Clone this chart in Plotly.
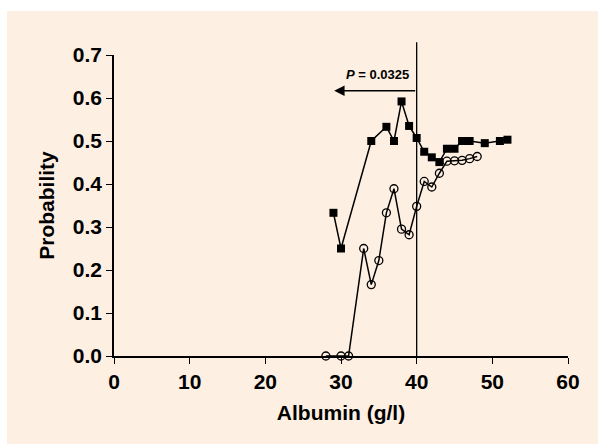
import plotly.graph_objects as go

# Data
sq_x = [29, 30, 34, 36, 37, 38, 39, 40, 41, 42, 43, 44, 45, 46, 47, 49, 51, 52]
sq_y = [0.333, 0.25, 0.5, 0.533, 0.5, 0.592, 0.535, 0.507, 0.475, 0.462, 0.451,
        0.482, 0.482, 0.5, 0.5, 0.495, 0.5, 0.503]

ci_x = [28, 30, 31, 33, 34, 35, 36, 37, 38, 39, 40, 41, 42, 43, 44, 45, 46, 47, 48]
ci_y = [0, 0, 0, 0.25, 0.166, 0.222, 0.333, 0.389, 0.295, 0.282, 0.348, 0.406,
        0.393, 0.425, 0.453, 0.454, 0.455, 0.459, 0.464]

x_ticks = [0, 10, 20, 30, 40, 50, 60]
y_ticks = [0.0, 0.1, 0.2, 0.3, 0.4, 0.5, 0.6, 0.7]
cutoff = 40
cutoff_top = 0.733
arrow_y = 0.617
arrow_end = 29.1
p_label = "<i>P</i> = 0.0325"

BG = "#FDEFE1"
FONT = "Liberation Sans, Arial, sans-serif"

W, H = 598, 444
L, R, T, B = 114, 30, 55, 88
PW, PH = W - L - R, H - T - B

fig = go.Figure()
fig.add_trace(go.Scatter(
    x=sq_x, y=sq_y, mode="lines+markers",
    line=dict(color="black", width=1.5),
    marker=dict(symbol="square", size=8, color="black"),
    cliponaxis=False, showlegend=False, hoverinfo="skip"))
fig.add_trace(go.Scatter(
    x=ci_x, y=ci_y, mode="lines+markers",
    line=dict(color="black", width=1.5),
    marker=dict(symbol="circle-open", size=8, color="black", line=dict(width=1.3)),
    cliponaxis=False, showlegend=False, hoverinfo="skip"))

# vertical cut-off line
fig.add_annotation(x=cutoff, y=0, ax=cutoff, ay=cutoff_top, xref="x", yref="y",
                   axref="x", ayref="y", showarrow=True, arrowhead=0,
                   arrowwidth=1.3, arrowcolor="black", text="")
# arrow pointing left
fig.add_annotation(x=arrow_end, y=arrow_y, ax=cutoff, ay=arrow_y, xref="x", yref="y",
                   axref="x", ayref="y", showarrow=True, arrowhead=2, arrowsize=1.3,
                   arrowwidth=1.6, arrowcolor="black", text="")
fig.add_annotation(x=39.3, y=0.655, xref="x", yref="y", text="<b>" + p_label + "</b>",
                   showarrow=False, xanchor="right", yanchor="middle",
                   font=dict(family=FONT, size=13, color="black"))

# beige panel (white strip left at top and left)
fig.add_shape(type="rect", xref="paper", yref="paper", layer="below",
              x0=(7 - L) / PW, x1=1 + R / PW + 0.1,
              y0=-B / PH - 0.1, y1=1 + (T - 11) / PH,
              line=dict(width=0), fillcolor=BG)

fig.update_layout(
    width=W, height=H,
    margin=dict(l=L, r=R, t=T, b=B),
    paper_bgcolor="white", plot_bgcolor=BG,
    font=dict(family=FONT, color="black"),
    xaxis=dict(range=[0, 60], tickvals=x_ticks, ticktext=[f"<b>{v}</b>" for v in x_ticks],
               showline=True, linecolor="black", linewidth=1.5, ticks="outside",
               ticklen=6, tickwidth=1.3, tickcolor="black", showgrid=False,
               zeroline=False, tickfont=dict(size=21, family=FONT),
               title=dict(text="<b>Albumin (g/l)</b>", font=dict(size=21, family=FONT),
                          standoff=13)),
    yaxis=dict(range=[0, 0.7], tickvals=y_ticks,
               ticktext=[f"<b>{v:.1f}</b>" for v in y_ticks],
               showline=True, linecolor="black", linewidth=1.5, ticks="outside",
               ticklen=6, tickwidth=1.3, tickcolor="black", showgrid=False,
               zeroline=False, tickfont=dict(size=21, family=FONT),
               title=dict(text="<b>Probability</b>", font=dict(size=21, family=FONT),
                          standoff=12)),
)

fig.write_html("out.html", config={"displayModeBar": False},
               post_script="document.body.style.margin='0';document.body.style.padding='0';")
